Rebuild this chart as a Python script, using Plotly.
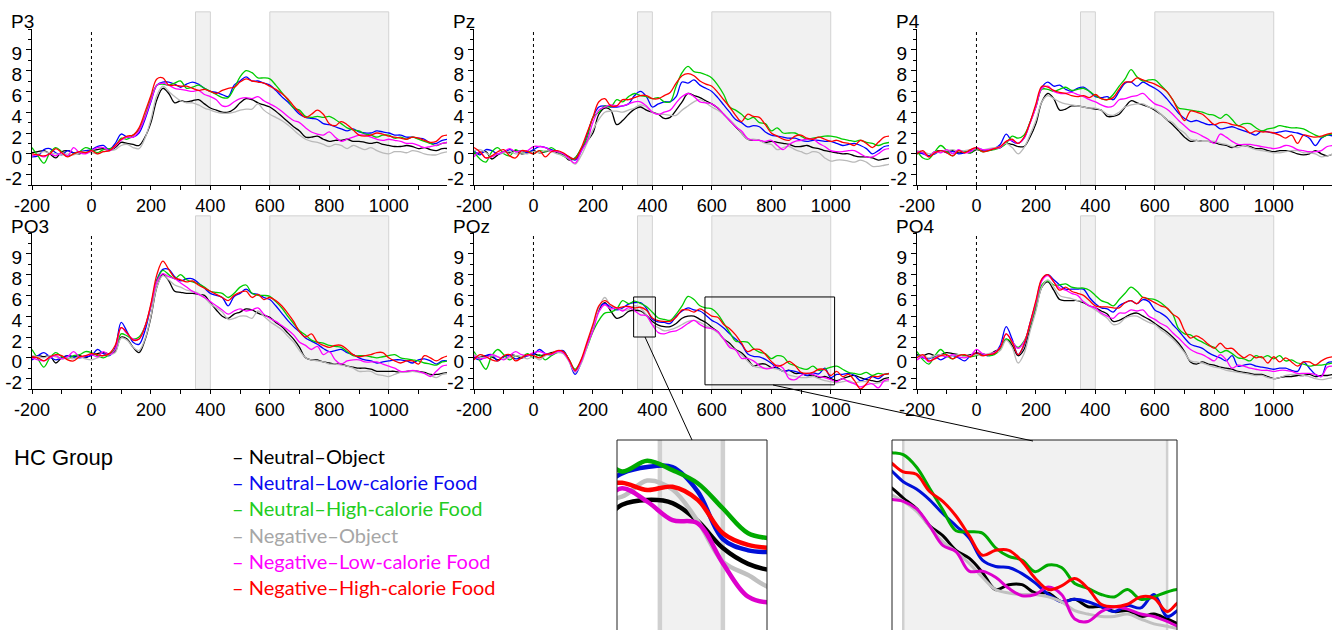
import plotly.graph_objects as go

# ---------------- data (µV), sampled every 20 ms from -200 to 1200 ms ----------------
times_ms = list(range(-200, 1201, 20))

conditions = ["Neutral\u2013Object", "Neutral\u2013Low-calorie Food", "Neutral\u2013High-calorie Food",
              "Negative\u2013Object", "Negative\u2013Low-calorie Food", "Negative\u2013High-calorie Food"]
line_colors = ["#000000", "#0000ff", "#00cc00", "#b9b9b9", "#ff00ff", "#ff0000"]
legend_colors = ["#000000", "#0a0af0", "#22cc22", "#a6a6a6", "#ff00ff", "#ff0000"]
inset_colors = ["#000000", "#0010d8", "#00aa00", "#c0c0c0", "#dd00cc", "#ff0000"]
channels = ["P3", "Pz", "P4", "PO3", "POz", "PO4"]

y_tickvals = [-2, 0, 2, 4, 6, 8, 10]
y_ticktext = ["-2", "0", "2", "4", "6", "8", "9"]
x_tickvals = [-200, 0, 200, 400, 600, 800, 1000]
x_ticktext = ["-200", "0", "200", "400", "600", "800", "1000"]
shade_windows = [(350, 400), (600, 1000)]

# P3
p3_neu_obj = [0.1, 0.2, 0.3, 0.0, -0.4, 0.2, 0.3, 0.1, 0.0, 0.2,
              0.3, 0.4, 0.5, 0.3, 0.6, 1.1, 1.0, 0.9, 0.8, 1.6,
              3.0, 5.2, 6.3, 5.8, 4.9, 5.1, 5.0, 5.1, 5.2, 4.8,
              4.4, 4.2, 4.0, 4.0, 4.3, 4.9, 5.3, 5.2, 4.9, 4.7,
              4.5, 4.1, 3.6, 3.1, 2.6, 2.2, 1.6, 1.6, 1.7, 1.4,
              1.2, 1.3, 1.3, 1.4, 1.2, 1.2, 1.1, 1.0, 1.1, 0.9,
              0.8, 0.7, 0.7, 0.8, 0.7, 0.5, 0.6, 0.4, 0.3, 0.5,
              0.5]
p3_neu_low = [-0.3, -0.2, 0.4, 0.5, 0.1, -0.1, 0.3, 0.1, 0.2, 0.3,
              0.4, 0.7, 0.8, 0.4, 1.0, 1.9, 1.6, 1.6, 2.0, 3.3,
              5.0, 6.6, 6.9, 6.9, 6.7, 6.4, 6.7, 6.9, 6.7, 6.3,
              6.0, 5.9, 5.7, 5.5, 6.6, 7.0, 7.4, 7.0, 7.0, 6.8,
              6.6, 6.1, 5.5, 5.0, 4.4, 3.8, 3.5, 3.4, 3.3, 2.9,
              2.8, 2.6, 2.4, 2.2, 2.4, 2.1, 2.0, 2.0, 2.2, 2.1,
              2.0, 1.8, 1.8, 1.6, 1.6, 1.5, 1.4, 1.0, 1.0, 1.3,
              1.4]
p3_neu_high = [0.6, -0.2, -0.9, 0.1, 0.6, 0.2, -0.2, 0.0, 0.2, 0.6,
               0.4, 0.1, 0.4, 0.5, 0.7, 1.5, 1.4, 1.8, 2.3, 3.6,
               5.3, 6.6, 6.7, 6.6, 6.8, 7.0, 6.3, 6.4, 6.6, 6.3,
               6.0, 5.7, 5.4, 5.4, 6.3, 7.4, 8.0, 7.8, 7.3, 7.3,
               7.2, 6.6, 5.9, 5.2, 4.4, 4.2, 3.6, 3.5, 3.6, 3.5,
               3.6, 3.3, 2.9, 2.5, 2.3, 2.2, 1.9, 1.8, 1.6, 1.8,
               1.8, 1.5, 1.6, 1.4, 1.6, 1.4, 1.2, 1.0, 0.8, 1.0,
               1.1]
p3_neg_obj = [-0.2, 0.0, 0.2, 0.1, 0.0, -0.1, 0.0, -0.1, 0.1, 0.2,
              0.1, 0.0, 0.2, 0.3, 0.4, 0.8, 0.9, 0.6, 0.5, 1.5,
              3.3, 5.6, 6.5, 6.0, 5.5, 5.1, 4.9, 4.9, 4.7, 4.4,
              4.2, 4.0, 3.9, 3.9, 4.0, 4.2, 4.3, 4.3, 4.8, 4.2,
              3.8, 3.5, 3.2, 2.8, 2.3, 1.8, 1.4, 1.2, 1.1, 0.9,
              0.7, 0.9, 0.8, 0.5, 0.8, 0.6, 0.4, 0.6, 0.3, 0.1,
              0.0, 0.2, 0.2, 0.1, 0.3, 0.2, 0.0, -0.1, -0.1, 0.1,
              0.2]
p3_neg_low = [-0.2, -0.1, -0.3, 0.0, -0.2, 0.1, -0.2, 0.6, 0.1, 0.0,
              0.3, 0.6, 0.6, 0.3, 0.7, 1.3, 1.6, 1.6, 2.2, 3.5,
              5.1, 6.6, 6.8, 6.6, 6.3, 6.2, 6.1, 6.0, 6.1, 5.7,
              5.5, 5.2, 4.6, 4.6, 5.0, 5.3, 5.4, 5.3, 5.5, 5.1,
              4.8, 4.5, 4.1, 3.6, 3.2, 3.0, 2.5, 2.1, 1.9, 1.8,
              2.1, 1.6, 1.2, 1.4, 1.6, 1.8, 1.8, 1.6, 1.4, 1.3,
              1.4, 1.3, 1.2, 1.0, 1.0, 0.8, 0.6, 0.7, 0.8, 1.0,
              1.1]
p3_neg_high = [0.0, -0.1, -0.2, 0.0, 0.5, 0.1, -0.3, 0.0, 0.2, 0.1,
               0.3, 0.0, 0.2, 0.3, 0.8, 1.4, 1.7, 1.8, 2.5, 4.0,
               5.6, 7.2, 7.3, 6.6, 6.6, 6.5, 6.5, 6.3, 6.1, 6.2,
               6.0, 5.8, 6.1, 6.3, 6.4, 6.9, 7.2, 7.0, 6.9, 6.8,
               6.5, 6.2, 5.8, 5.3, 4.6, 4.0, 3.5, 3.8, 4.2, 3.8,
               2.9, 2.7, 3.1, 2.8, 2.3, 1.8, 1.7, 1.8, 2.0, 1.9,
               1.7, 1.6, 1.5, 1.4, 1.6, 1.5, 1.3, 1.1, 1.2, 1.7,
               1.8]

# Pz
pz_neu_obj = [0.0, 0.1, 0.2, -0.5, -0.1, 0.2, 0.1, 0.3, 0.0, 0.1,
              0.3, 0.1, 0.2, 0.3, 0.1, -0.1, -0.6, -0.4, 0.4, 1.2,
              2.0, 3.8, 4.4, 4.2, 2.8, 3.2, 3.8, 4.3, 4.5, 4.2,
              4.0, 3.8, 3.4, 3.5, 4.2, 5.0, 5.8, 5.6, 5.4, 5.1,
              4.8, 4.4, 3.8, 3.2, 2.6, 2.0, 1.4, 1.3, 1.3, 1.1,
              1.2, 1.1, 1.0, 0.9, 0.7, 0.7, 0.8, 0.6, 0.5, 0.3,
              0.2, 0.1, 0.0, 0.0, -0.2, -0.3, -0.3, -0.4, -0.6, -0.5,
              -0.4]
pz_neu_low = [0.3, -0.1, 0.4, 0.3, 0.0, 0.1, 0.4, 0.2, 0.3, 0.1,
              0.4, 0.7, 0.6, 0.4, 0.2, 0.0, -0.3, -0.6, 0.2, 1.8,
              3.5, 4.5, 4.6, 4.5, 4.5, 4.6, 4.8, 5.6, 6.0, 5.5,
              4.5, 4.8, 5.0, 5.0, 5.5, 6.9, 6.8, 7.1, 6.6, 6.3,
              6.0, 5.4, 4.7, 4.0, 3.3, 3.0, 2.6, 2.7, 2.6, 2.1,
              1.8, 1.7, 1.6, 1.5, 1.5, 1.3, 1.2, 1.3, 1.3, 1.2,
              1.2, 1.0, 0.8, 0.9, 1.0, 0.8, 0.5, 0.0, 0.3, 0.7,
              0.8]
pz_neu_high = [0.2, -0.5, -0.8, 0.2, 0.6, 0.0, -0.2, 0.4, 0.1, 0.3,
               0.0, 0.3, 0.2, 0.6, 0.2, -0.2, -0.5, -0.4, 0.5, 1.5,
               3.5, 4.0, 4.6, 4.5, 5.2, 5.0, 5.5, 5.8, 5.6, 5.5,
               5.3, 5.4, 5.0, 5.0, 6.5, 7.8, 8.4, 7.9, 7.8, 7.6,
               7.3, 6.6, 5.7, 4.5, 4.2, 3.8, 3.3, 3.5, 3.0, 2.9,
               2.2, 2.5, 2.0, 2.0, 2.0, 1.7, 1.4, 1.5, 1.6, 1.7,
               1.7, 1.6, 1.4, 1.3, 1.2, 1.3, 1.1, 1.0, 0.8, 1.0,
               1.1]
pz_neg_obj = [0.3, 0.4, 0.1, -0.2, 0.0, 0.1, 0.2, 0.0, 0.1, 0.0,
              0.2, 0.1, 0.3, 0.2, 0.0, -0.2, -0.5, -1.0, -0.2, 1.0,
              2.3, 3.3, 4.0, 4.1, 4.1, 4.0, 4.2, 4.4, 4.7, 4.5,
              4.0, 3.8, 3.8, 3.7, 3.7, 4.2, 4.6, 5.0, 5.2, 4.9,
              4.5, 4.2, 3.8, 3.3, 2.7, 2.0, 1.4, 1.4, 1.3, 1.0,
              0.9, 0.4, 0.6, 0.7, 0.4, 0.2, 0.0, 0.2, 0.1, -0.4,
              -0.7, -0.6, -0.6, -0.7, -0.8, -0.6, -0.8, -1.2, -1.2, -1.1,
              -1.0]
pz_neg_low = [-0.3, 0.2, -0.4, -0.3, 0.0, 0.2, 0.5, 0.2, 0.3, 0.3,
              0.7, 0.7, 0.6, 0.3, 0.2, 0.0, -0.5, -0.9, 0.2, 1.2,
              3.0, 4.2, 4.5, 4.7, 4.6, 4.6, 4.8, 5.0, 5.0, 4.6,
              4.0, 3.8, 4.0, 4.2, 4.9, 5.5, 5.8, 5.5, 5.0, 4.9,
              4.8, 4.4, 3.8, 3.2, 2.6, 2.2, 1.5, 1.3, 1.3, 1.2,
              1.3, 0.8, 0.4, 0.9, 1.2, 1.3, 1.4, 1.4, 1.0, 0.7,
              0.3, 0.2, 0.2, 0.3, 0.3, 0.0, -0.3, -0.3, 0.0, 0.4,
              0.5]
pz_neg_high = [0.6, 0.2, -0.4, -0.2, 0.2, 0.4, -0.2, -0.4, 0.3, 0.2,
               0.0, 0.3, -0.3, 0.2, 0.3, 0.1, -0.3, -0.5, 0.5, 2.0,
               3.5, 5.0, 5.3, 4.6, 4.6, 5.2, 5.2, 5.4, 5.6, 5.6,
               5.3, 5.3, 5.6, 5.9, 6.8, 7.5, 7.7, 7.5, 7.0, 6.7,
               6.5, 5.9, 5.2, 4.5, 3.7, 3.1, 3.8, 3.6, 3.5, 2.8,
               2.0, 1.7, 1.4, 1.3, 1.7, 1.8, 1.5, 1.4, 1.6, 1.4,
               1.2, 1.3, 1.1, 1.0, 0.8, 1.3, 1.0, 0.6, 1.1, 1.6,
               1.7]

# P4
p4_neu_obj = [0.0, 0.1, -0.2, 0.2, 0.3, 0.2, 0.3, 0.1, 0.2, 0.1,
              0.4, 0.3, 0.4, 0.5, 0.6, 1.0, 0.9, 0.7, 0.7, 1.6,
              2.9, 5.0, 5.8, 5.3, 4.2, 4.3, 4.6, 4.6, 4.5, 4.4,
              4.3, 4.2, 3.6, 3.6, 3.8, 4.5, 5.1, 4.9, 4.7, 4.5,
              4.2, 3.8, 3.3, 2.8, 2.2, 1.6, 1.2, 1.3, 1.2, 1.2,
              1.1, 0.9, 0.8, 0.6, 0.8, 0.8, 0.7, 0.5, 0.5, 0.3,
              0.2, 0.3, 0.3, 0.2, 0.0, -0.1, 0.0, 0.3, 0.0, -0.2,
              0.0]
p4_neu_low = [0.2, 0.0, -0.2, 0.0, 0.3, 0.1, 0.2, 0.0, 0.1, 0.3,
              0.5, 0.4, 0.3, 0.5, 0.9, 1.9, 1.2, 1.0, 1.5, 3.0,
              4.6, 6.4, 6.9, 6.5, 6.6, 6.2, 6.0, 6.3, 6.4, 6.0,
              5.5, 5.4, 5.5, 5.2, 6.0, 6.8, 6.9, 6.5, 6.9, 6.6,
              6.3, 5.9, 5.3, 4.6, 3.9, 3.4, 3.1, 3.2, 3.0, 2.8,
              2.8, 2.4, 2.5, 2.6, 2.4, 2.2, 2.0, 1.8, 2.2, 2.1,
              2.0, 2.1, 2.2, 2.1, 2.0, 1.8, 1.5, 0.8, 1.5, 1.8,
              1.7]
p4_neu_high = [0.3, -0.4, -0.5, 0.2, 0.8, 0.3, -0.2, 0.3, 0.2, 0.1,
               0.5, 0.2, 0.3, 0.4, 0.6, 1.0, 1.7, 1.5, 1.8, 3.0,
               4.5, 6.2, 6.2, 6.0, 6.2, 6.4, 6.1, 6.2, 6.3, 6.0,
               5.6, 5.3, 5.2, 5.7, 6.5, 7.2, 8.1, 7.4, 7.0, 7.1,
               7.1, 6.6, 6.0, 5.2, 4.4, 4.3, 4.2, 4.1, 4.0, 3.8,
               3.7, 3.4, 3.8, 3.3, 2.7, 2.9, 2.9, 2.5, 2.2, 2.4,
               2.5, 2.7, 2.6, 2.5, 2.5, 2.4, 2.1, 1.8, 1.6, 1.8,
               1.9]
p4_neg_obj = [0.3, 0.2, 0.0, 0.1, 0.2, 0.3, 0.4, 0.2, 0.3, 0.4,
              0.5, 0.4, 0.5, 0.6, 0.7, 1.0, 0.6, 0.0, 0.6, 1.8,
              3.2, 5.0, 5.6, 5.3, 5.0, 4.8, 4.7, 4.6, 4.5, 4.4,
              4.4, 4.2, 3.8, 3.7, 4.0, 4.5, 4.7, 4.8, 4.8, 4.5,
              4.3, 3.8, 3.3, 3.0, 2.4, 2.0, 1.4, 1.3, 1.2, 1.2,
              1.2, 1.0, 0.9, 0.7, 0.6, 0.8, 0.6, 0.4, 0.3, 0.2,
              0.1, 0.1, 0.2, 0.3, 0.3, 0.1, 0.1, 0.0, -0.3, -0.2,
              0.0]
p4_neg_low = [0.2, 0.1, -0.3, 0.2, 0.1, 0.4, 0.0, 0.4, 0.1, 0.2,
              0.6, 0.4, 0.4, 0.5, 0.6, 1.2, 1.3, 1.0, 1.5, 2.9,
              4.5, 6.3, 6.5, 6.0, 5.8, 5.8, 5.9, 5.7, 5.5, 5.2,
              5.0, 4.7, 4.5, 4.6, 5.2, 5.3, 5.5, 5.6, 5.8, 5.3,
              4.8, 4.6, 4.3, 3.8, 3.2, 2.7, 2.2, 2.0, 1.7, 1.4,
              1.0, 1.9, 1.6, 1.2, 0.9, 0.9, 0.9, 0.8, 0.7, 0.6,
              0.5, 0.6, 0.8, 0.7, 0.4, 0.3, 0.2, 0.2, 0.3, 0.7,
              0.8]
p4_neg_high = [0.0, 0.3, -0.3, 0.1, 0.3, 0.1, -0.2, 0.3, 0.1, 0.4,
               0.6, 0.2, 0.3, 0.5, 0.7, 1.2, 1.4, 1.0, 1.6, 3.0,
               4.8, 6.5, 6.4, 6.1, 5.9, 5.8, 5.6, 5.5, 5.6, 5.4,
               5.7, 5.3, 5.2, 5.4, 6.2, 6.9, 6.9, 7.3, 7.1, 6.9,
               6.7, 6.4, 6.0, 5.2, 4.1, 3.2, 4.1, 4.0, 3.8, 3.3,
               2.8, 3.0, 3.0, 2.8, 2.7, 2.5, 2.0, 2.2, 2.1, 2.1,
               2.0, 1.8, 1.5, 1.8, 1.0, 1.8, 1.7, 1.6, 1.7, 1.9,
               2.0]

# PO3
po3_neu_obj = [0.0, 0.2, 0.1, 0.2, -0.5, 0.0, 0.2, 0.1, 0.2, 0.0,
               0.3, 0.4, 0.5, 0.4, 0.6, 2.0, 1.8, 1.0, 0.5, 1.7,
               3.9, 6.8, 8.0, 7.4, 6.4, 6.3, 6.2, 6.2, 6.1, 6.0,
               5.3, 4.6, 4.0, 3.8, 4.2, 4.4, 4.7, 4.6, 4.3, 4.1,
               3.9, 3.4, 3.0, 2.4, 1.8, 1.0, 0.0, -0.2, -0.2, -0.4,
               -0.5, -0.6, -0.6, -0.8, -0.9, -1.0, -1.0, -1.1, -1.3, -1.3,
               -1.3, -1.3, -1.4, -1.3, -1.3, -1.3, -1.4, -1.6, -1.6, -1.5,
               -1.4]
po3_neu_low = [-0.2, 0.2, 0.5, 0.1, -0.2, 0.0, 0.2, 0.1, 0.0, 0.1,
               0.2, 0.8, 0.4, 0.2, 1.0, 3.4, 2.5, 1.5, 1.3, 2.6,
               5.0, 7.5, 8.5, 8.5, 7.8, 7.4, 7.6, 7.6, 7.2, 6.7,
               6.2, 6.0, 5.8, 5.0, 5.9, 6.2, 6.6, 6.2, 6.1, 5.8,
               5.6, 5.0, 4.3, 3.6, 3.0, 2.5, 1.9, 1.6, 1.3, 0.9,
               0.6, 0.7, 0.8, 0.5, 0.3, 0.0, -0.2, -0.3, -0.5, -0.4,
               -0.3, -0.2, -0.2, -0.3, -0.5, -0.2, -0.1, -0.3, -0.6, -0.3,
               -0.3]
po3_neu_high = [0.8, -0.1, -0.9, 0.0, 0.5, 0.1, -0.1, 0.2, 0.3, 0.6,
                0.5, 0.2, 0.0, 0.3, 0.8, 2.3, 2.1, 1.8, 2.0, 3.0,
                5.0, 7.4, 8.4, 8.0, 7.6, 8.0, 7.5, 7.3, 7.1, 6.8,
                6.4, 6.3, 6.2, 5.8, 6.2, 6.8, 7.0, 6.2, 6.0, 6.0,
                5.9, 5.4, 4.8, 4.0, 3.3, 2.6, 2.2, 1.7, 1.5, 1.4,
                1.2, 1.1, 1.0, 0.6, 0.2, 0.2, 0.2, 0.1, 0.0, 0.1,
                0.2, 0.3, 0.0, -0.1, -0.2, -0.3, -0.5, -0.6, -0.7, -0.4,
                -0.3]
po3_neg_obj = [0.2, 0.1, 0.0, 0.2, 0.1, -0.1, 0.0, -0.1, 0.1, -0.1,
               -0.2, 0.0, 0.2, 0.3, 0.5, 1.9, 1.7, 1.0, 0.7, 1.8,
               4.0, 6.8, 7.9, 7.5, 7.0, 6.8, 6.5, 6.4, 6.2, 5.8,
               5.2, 4.8, 4.4, 3.7, 3.8, 4.0, 4.0, 3.8, 4.5, 4.0,
               3.5, 3.1, 2.7, 2.1, 1.5, 0.7, 0.0, -0.2, -0.3, -0.4,
               -0.6, -0.6, -0.7, -0.8, -1.0, -1.3, -1.3, -1.3, -1.6, -1.7,
               -1.8, -1.6, -1.4, -1.4, -1.3, -1.4, -1.5, -1.7, -1.9, -1.6,
               -1.5]
po3_neg_low = [0.0, -0.2, -0.3, 0.0, 0.2, -0.1, 0.1, 0.6, 0.1, 0.2,
               0.3, 0.1, 0.6, 0.3, 0.8, 2.9, 2.3, 1.8, 1.8, 3.0,
               5.0, 7.3, 8.1, 7.8, 7.6, 7.2, 6.8, 6.4, 6.1, 5.8,
               5.4, 5.0, 4.6, 4.2, 4.5, 4.7, 4.5, 4.6, 4.8, 4.2,
               3.8, 3.5, 3.1, 2.7, 2.2, 1.5, 1.2, 0.8, 1.1, 0.3,
               0.6, -0.2, -0.6, -0.3, -0.2, -0.2, -0.4, -0.4, -0.4, -0.6,
               -0.8, -1.0, -1.3, -1.3, -1.2, -1.3, -1.5, -1.8, -1.3, -0.8,
               -0.7]
po3_neg_high = [0.1, 0.0, -0.3, 0.1, 0.3, 0.2, -0.2, -0.3, 0.1, 0.2,
                0.4, 0.3, 0.2, 0.4, 1.2, 2.9, 2.4, 1.7, 1.8, 3.0,
                5.2, 8.0, 9.3, 8.5, 7.7, 7.5, 7.3, 7.4, 7.0, 6.7,
                6.4, 6.1, 5.8, 5.5, 6.0, 6.3, 6.4, 5.8, 6.1, 5.6,
                5.8, 5.5, 5.0, 4.3, 3.5, 2.5, 2.0, 2.3, 1.5, 1.2,
                1.0, 1.2, 1.2, 0.8, 0.3, 0.1, 0.2, 0.3, 0.5, 0.5,
                0.0, -0.3, -0.5, -0.3, -0.3, -0.6, 0.2, 0.0, -0.3, 0.0,
                0.2]

# POz
poz_neu_obj = [0.0, 0.1, 0.2, 0.1, -0.2, 0.1, 0.3, 0.2, 0.0, 0.2,
               0.4, 0.2, 0.3, 0.5, 0.6, 0.6, -0.2, -1.3, -0.3, 1.2,
               2.8, 4.6, 5.3, 4.5, 3.8, 4.0, 4.46, 4.57, 4.5, 4.1,
               3.5, 3.15, 3.0, 3.0, 3.3, 3.8, 4.0, 4.0, 3.7, 3.4,
               2.93, 2.5, 1.8, 1.4, 0.8, 0.48, -0.1, -0.8, -0.6, -0.6,
               -0.94, -0.95, -1.3, -1.2, -1.5, -1.5, -1.7, -1.66, -1.9, -1.8,
               -2.0, -2.2, -2.0, -1.8, -1.7, -1.9, -2.1, -2.2, -2.3, -2.0,
               -1.9]
poz_neu_low = [0.0, -0.2, 0.2, 0.3, -0.3, 0.1, 0.2, -0.1, 0.0, 0.2,
               0.3, 0.8, 0.4, 0.3, 0.6, 0.7, -0.3, -1.6, -0.5, 1.2,
               2.8, 4.8, 5.2, 4.9, 4.6, 4.8, 5.16, 5.3, 5.3, 4.76,
               3.7, 3.45, 3.4, 3.3, 4.0, 4.5, 4.8, 4.6, 4.5, 4.1,
               3.6, 3.3, 2.86, 2.3, 1.8, 1.3, 0.4, 0.14, 0.1, -0.15,
               -0.53, -1.0, -1.3, -1.2, -1.3, -1.5, -1.7, -1.45, -1.55, -1.0,
               -1.9, -1.6, -1.6, -1.5, -1.7, -2.2, -2.0, -1.8, -2.0, -1.6,
               -1.5]
poz_neu_high = [0.6, -0.3, -1.1, 0.2, 0.8, 0.3, -0.2, 0.2, 0.1, 0.4,
                0.0, 0.3, -0.2, 0.2, 0.5, 0.6, -0.2, -1.1, -0.3, 1.0,
                2.5, 3.6, 4.3, 4.4, 4.7, 5.5, 5.2, 5.44, 5.23, 4.94,
                4.38, 3.83, 3.7, 3.6, 4.2, 5.0, 5.9, 5.6, 5.0, 4.8,
                4.7, 4.2, 3.33, 2.45, 1.6, 1.56, 1.5, 0.9, 0.55, 0.4,
                -0.07, 0.2, 0.1, -0.55, -0.75, -1.0, -1.1, -0.8, -1.2, -1.1,
                -0.9, -0.8, -1.1, -1.4, -1.5, -1.6, -1.4, -1.7, -1.5, -1.6,
                -1.5]
poz_neg_obj = [0.3, 0.1, 0.0, 0.2, 0.1, -0.1, 0.0, 0.2, 0.1, -0.1,
               0.1, -0.2, 0.2, 0.4, 0.5, 0.4, -0.4, -1.4, -0.6, 1.0,
               2.8, 4.8, 5.8, 5.0, 4.8, 4.6, 4.64, 5.0, 4.8, 4.1,
               3.2, 2.9, 2.6, 2.7, 2.9, 3.2, 3.5, 3.6, 3.4, 3.1,
               2.8, 2.4, 1.77, 1.16, 0.75, 0.27, -0.3, -0.8, -0.94, -1.0,
               -1.0, -1.1, -1.3, -1.66, -1.8, -1.9, -1.9, -1.8, -2.0, -2.2,
               -2.3, -2.4, -2.3, -2.2, -2.4, -2.3, -2.3, -2.5, -2.4, -2.3,
               -2.2]
poz_neg_low = [0.2, -0.1, 0.0, 0.3, 0.1, -0.2, 0.2, 0.6, 0.3, 0.2,
               0.5, 0.6, 0.4, 0.3, 0.6, 0.5, -0.3, -1.3, -0.4, 1.2,
               2.6, 4.4, 5.1, 4.7, 4.8, 4.5, 4.83, 4.53, 4.12, 4.05,
               3.16, 2.42, 2.3, 2.5, 2.6, 2.9, 3.3, 3.6, 3.2, 2.9,
               2.8, 2.5, 1.8, 1.0, 0.75, -0.05, -0.05, -0.3, -0.75, -1.05,
               -1.0, -0.7, -1.0, -2.0, -2.1, -1.7, -1.5, -1.6, -1.8, -1.9,
               -2.1, -2.3, -2.0, -2.3, -2.5, -2.8, -2.6, -2.5, -2.9, -2.2,
               -2.1]
poz_neg_high = [-0.2, 0.3, 0.1, -0.2, -0.3, 0.2, 0.3, -0.3, 0.0, 0.3,
                0.2, 0.0, 0.3, 0.4, 0.7, 0.6, -0.2, -1.2, -0.2, 1.5,
                3.2, 5.0, 5.5, 5.1, 4.8, 4.9, 4.95, 4.79, 4.86, 4.57,
                3.83, 3.57, 3.5, 3.5, 3.9, 4.6, 4.6, 4.4, 4.7, 4.4,
                4.0, 3.9, 3.2, 2.8, 2.2, 1.4, 0.6, 0.8, 0.8, 0.35,
                -0.34, -0.8, -0.65, -0.35, -0.75, -1.4, -1.5, -1.4, -1.1, -1.15,
                -1.7, -1.3, -1.8, -1.6, -2.2, -3.0, -2.5, -1.8, -1.8, -1.6,
                -1.5]

# PO4
po4_neu_obj = [0.3, 0.2, 0.4, 0.2, 0.3, 0.5, 0.4, 0.3, 0.2, 0.3,
               0.4, 0.3, 0.3, 0.6, 0.9, 1.8, 1.2, 0.2, 0.8, 2.8,
               4.7, 6.8, 7.3, 6.5, 5.6, 5.5, 5.5, 5.5, 5.3, 5.0,
               4.8, 4.5, 4.2, 3.5, 3.6, 3.9, 4.2, 4.3, 4.0, 3.7,
               3.3, 2.9, 2.5, 2.0, 1.4, 0.6, -0.4, -0.6, -0.4, -0.6,
               -0.7, -0.9, -1.0, -1.1, -1.3, -1.4, -1.5, -1.6, -1.6, -1.8,
               -2.0, -1.9, -1.8, -1.8, -1.7, -1.7, -1.6, -1.8, -1.7, -1.7,
               -1.6]
po4_neu_low = [0.2, 0.0, -0.1, 0.1, -0.2, 0.1, 0.2, 0.0, -0.3, 0.2,
               0.5, 0.3, 0.2, 0.4, 1.2, 3.0, 1.8, 0.3, 1.2, 3.3,
               5.3, 7.5, 8.0, 7.5, 7.0, 6.6, 6.6, 6.6, 6.6, 5.8,
               5.2, 4.8, 4.7, 4.4, 5.0, 5.3, 5.5, 5.2, 5.6, 5.4,
               4.6, 4.3, 3.9, 3.2, 2.6, 1.9, 1.3, 1.1, 0.9, 0.5,
               0.2, 0.0, -0.3, 0.2, -0.8, -0.7, -0.6, -0.8, -0.9, -1.0,
               -1.1, -1.0, -1.0, -1.2, -1.3, -0.4, -1.0, -1.6, -1.8, -0.5,
               -0.4]
po4_neu_high = [0.6, -0.2, -0.6, 0.2, 0.8, 0.2, -0.1, 0.3, 0.2, 0.1,
                0.2, 0.4, 0.2, 0.3, 0.8, 1.8, 1.5, 1.0, 1.6, 3.0,
                5.0, 7.0, 7.4, 7.0, 7.0, 7.1, 6.8, 6.7, 6.7, 6.5,
                6.0, 5.5, 5.3, 5.0, 5.6, 6.2, 6.8, 6.4, 5.8, 5.7,
                5.6, 5.3, 4.8, 4.2, 2.8, 2.3, 2.2, 1.8, 1.5, 1.2,
                1.0, 0.5, 0.7, 0.4, 0.0, -0.1, -0.3, 0.2, 0.0, 0.2,
                -0.1, 0.2, -0.3, -0.2, -0.5, -0.6, -0.8, -0.7, -0.7, -0.6,
                -0.5]
po4_neg_obj = [0.1, 0.2, 0.0, 0.2, 0.3, 0.1, 0.2, 0.3, 0.1, 0.2,
               0.3, 0.2, 0.4, 0.5, 0.7, 1.7, 1.0, -0.5, 0.4, 2.5,
               4.5, 6.8, 7.5, 6.8, 6.0, 5.8, 5.7, 5.5, 5.4, 5.0,
               4.6, 4.2, 3.8, 3.2, 3.3, 3.8, 4.0, 4.0, 3.7, 3.4,
               3.2, 2.7, 2.3, 1.8, 1.2, 0.5, -0.3, -0.4, -0.5, -0.7,
               -0.9, -1.0, -1.2, -1.3, -1.4, -1.5, -1.6, -1.7, -1.7, -1.9,
               -2.0, -1.9, -1.7, -1.6, -1.6, -1.7, -1.8, -2.0, -2.1, -2.0,
               -1.9]
po4_neg_low = [-0.2, 0.1, -0.4, 0.0, 0.2, 0.1, 0.3, 0.1, 0.0, 0.2,
               0.8, 0.4, 0.3, 0.5, 1.0, 2.3, 1.6, 0.9, 1.5, 3.2,
               5.3, 7.4, 7.9, 7.3, 6.7, 6.5, 6.2, 6.0, 5.4, 5.0,
               4.8, 4.3, 4.0, 3.8, 4.3, 4.3, 4.6, 4.5, 4.6, 4.0,
               3.7, 3.3, 3.0, 2.4, 1.9, 1.3, 0.8, 0.5, 0.3, 0.0,
               -0.3, 0.3, -0.2, -1.0, -0.7, -0.8, -1.0, -1.1, -1.2, -1.2,
               -1.3, -1.2, -1.2, -1.3, -1.5, -1.5, -1.5, -1.6, -1.8, -0.9,
               -0.8]
po4_neg_high = [0.0, 0.3, -0.3, -0.1, 0.2, 0.3, -0.1, 0.2, 0.3, 0.1,
                0.5, 0.2, 0.3, 0.4, 1.0, 2.3, 1.5, 0.3, 1.3, 3.3,
                5.5, 7.6, 8.0, 7.3, 6.5, 6.8, 6.4, 6.2, 6.0, 5.5,
                5.0, 4.9, 4.9, 4.8, 4.8, 5.3, 5.5, 5.2, 5.8, 5.6,
                5.3, 5.0, 4.8, 4.2, 3.8, 2.6, 1.9, 2.1, 1.8, 1.3,
                0.9, 1.4, 0.9, 0.9, 0.4, 0.0, 0.3, 0.0, 0.1, -0.5,
                0.1, -0.4, 0.0, -0.4, -0.8, -0.4, -0.4, -0.7, -0.3, 0.0,
                0.1]

channel_data = {
    "P3": [p3_neu_obj, p3_neu_low, p3_neu_high, p3_neg_obj, p3_neg_low, p3_neg_high],
    "Pz": [pz_neu_obj, pz_neu_low, pz_neu_high, pz_neg_obj, pz_neg_low, pz_neg_high],
    "P4": [p4_neu_obj, p4_neu_low, p4_neu_high, p4_neg_obj, p4_neg_low, p4_neg_high],
    "PO3": [po3_neu_obj, po3_neu_low, po3_neu_high, po3_neg_obj, po3_neg_low, po3_neg_high],
    "POz": [poz_neu_obj, poz_neu_low, poz_neu_high, poz_neg_obj, poz_neg_low, poz_neg_high],
    "PO4": [po4_neu_obj, po4_neu_low, po4_neu_high, po4_neg_obj, po4_neg_low, po4_neg_high],
}
for ch, series in channel_data.items():
    for k, s in enumerate(series):
        if len(s) != len(times_ms):
            raise ValueError(f"{ch} series {k} has {len(s)} values")

# ---------------- layout geometry (pixels) ----------------
W, H = 1338, 630
def fx(px):
    return px / W
def fy(py):
    return 1 - py / H

panel_left = [32, 474, 917]
panel_w = 415
row_top = [29, 233]
row_h = 156

FONT = "Liberation Sans, Arial, sans-serif"
fig = go.Figure()
layout = dict(width=W, height=H, autosize=False, margin=dict(l=0, r=0, t=0, b=0, pad=0),
              paper_bgcolor="white", plot_bgcolor="white", showlegend=False)
shapes = []
annotations = []

for idx, ch in enumerate(channels):
    n = idx + 1
    r, c = divmod(idx, 3)
    L = panel_left[c]
    T = row_top[r]
    xa = "xaxis" if n == 1 else f"xaxis{n}"
    ya = "yaxis" if n == 1 else f"yaxis{n}"
    xr = "x" if n == 1 else f"x{n}"
    yr = "y" if n == 1 else f"y{n}"
    layout[xa] = dict(domain=[fx(L), fx(L + panel_w)], anchor=yr, range=[-200, 1196],
                      automargin=False,
                      tickmode="array", tickvals=x_tickvals, ticktext=x_ticktext,
                      ticks="outside", ticklen=4, ticklabelstandoff=0,
                      tickcolor="black", showline=True, linecolor="black", linewidth=1,
                      showgrid=False, zeroline=False,
                      tickfont=dict(family=FONT, size=18, color="black"),
                      minor=dict(tickmode="linear", tick0=-200, dtick=100, ticks="outside",
                                 ticklen=4, tickcolor="black"))
    layout[ya] = dict(domain=[fy(T + row_h), fy(T)], anchor=xr, range=[-3, 12],
                      automargin=False,
                      tickmode="array", tickvals=y_tickvals, ticktext=y_ticktext,
                      ticks="outside", ticklen=5, tickcolor="black", ticklabelshift=4,
                      showline=True, linecolor="black", linewidth=1,
                      showgrid=False, zeroline=False,
                      tickfont=dict(family=FONT, size=19, color="black"),
                      minor=dict(tickmode="linear", tick0=0, dtick=1, ticks="outside",
                                 ticklen=3, tickcolor="black"))
    for (a, b) in shade_windows:
        shapes.append(dict(type="rect", xref=xr, yref=f"{yr} domain", x0=a, x1=b, y0=0, y1=1.11,
                           fillcolor="#f1f1f1", line=dict(color="#d2d2d2", width=1), layer="below"))
    shapes.append(dict(type="line", xref=xr, yref=f"{yr} domain", x0=0, x1=0, y0=0, y1=1,
                       line=dict(color="black", width=1, dash="dot"), layer="above"))
    for k in range(6):
        fig.add_trace(go.Scatter(x=times_ms, y=channel_data[ch][k], mode="lines",
                                 line=dict(color=line_colors[k], width=1.3, shape="spline"),
                                 xaxis=xr, yaxis=yr, hoverinfo="skip"))
    annotations.append(dict(text=ch, xref="paper", yref="paper", x=fx(L - 23), y=fy(T - 7),
                            xanchor="left", yanchor="middle", showarrow=False,
                            font=dict(family=FONT, size=19, color="black")))

# ---------------- zoom insets of POz ----------------
insets = [
    dict(n=7, px=(617, 767), xrange=[316, 435], yrange=[1.68, 5.9], width=4.5, border=4.5,
         src=(337, 410, 2.0, 5.85), link=((645, 337), (692, 440)), windows=[(350, 400)]),
    dict(n=8, px=(892, 1177), xrange=[583, 1015], yrange=[-2.45, 5.3], width=3.0, border=2.5,
         src=(577, 1013, -2.6, 5.85), link=((773, 385), (1033, 441)), windows=[(600, 1000)]),
]
for ins in insets:
    n = ins["n"]
    xr, yr = f"x{n}", f"y{n}"
    layout[f"xaxis{n}"] = dict(domain=[fx(ins["px"][0]), fx(ins["px"][1])], anchor=yr,
                               range=ins["xrange"], visible=False, automargin=False)
    layout[f"yaxis{n}"] = dict(domain=[0, fy(440)], anchor=xr, range=ins["yrange"],
                               visible=False, automargin=False)
    for (a, b) in ins["windows"]:
        shapes.append(dict(type="rect", xref=xr, yref=f"{yr} domain", x0=a, x1=b, y0=-0.2, y1=1,
                           fillcolor="#f1f1f1", line=dict(width=0), layer="below"))
        for xv in (a, b):
            shapes.append(dict(type="line", xref=xr, yref=f"{yr} domain", x0=xv, x1=xv, y0=-0.2, y1=1,
                               line=dict(color="#d0d0d0", width=ins["border"]), layer="below"))
    for k in range(6):
        fig.add_trace(go.Scatter(x=times_ms, y=channel_data["POz"][k], mode="lines",
                                 line=dict(color=inset_colors[k], width=ins["width"], shape="spline"),
                                 xaxis=xr, yaxis=yr, hoverinfo="skip"))
    shapes.append(dict(type="rect", xref="paper", yref="paper", x0=fx(ins["px"][0]), x1=fx(ins["px"][1]),
                       y0=-0.1, y1=fy(440), line=dict(color="#222222", width=1), layer="above"))
    sx0, sx1, sy0, sy1 = ins["src"]
    shapes.append(dict(type="rect", xref="x5", yref="y5", x0=sx0, x1=sx1, y0=sy0, y1=sy1,
                       line=dict(color="black", width=1), layer="above"))
    (ax, ay), (bx, by) = ins["link"]
    shapes.append(dict(type="line", xref="paper", yref="paper", x0=fx(ax), y0=fy(ay), x1=fx(bx), y1=fy(by),
                       line=dict(color="black", width=1), layer="above"))

# ---------------- legend text ----------------
annotations.append(dict(text="HC Group", xref="paper", yref="paper", x=fx(12), y=fy(457),
                        xanchor="left", yanchor="middle", showarrow=False,
                        font=dict(family=FONT, size=22, color="black")))
for k, name in enumerate(conditions):
    annotations.append(dict(text="\u2013 " + name, xref="paper", yref="paper", x=fx(230), y=fy(456 + 26.2 * k),
                            xanchor="left", yanchor="middle", showarrow=False,
                            font=dict(family="Lato, Open Sans, sans-serif", size=20, color=legend_colors[k])))

layout["shapes"] = shapes
layout["annotations"] = annotations
fig.update_layout(**layout)
fig.write_html("out.html", config={"displayModeBar": False},
               post_script="document.body.style.margin='0px';document.body.style.overflow='hidden';")
